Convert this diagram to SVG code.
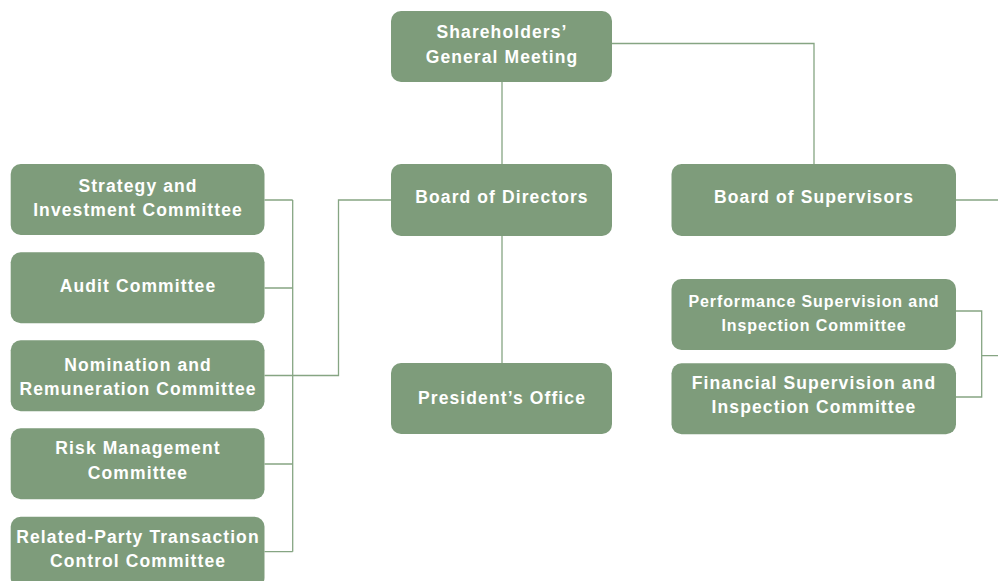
<svg xmlns="http://www.w3.org/2000/svg" width="998" height="581" viewBox="0 0 998 581">
<style>
.box{fill:#7e9c7b}
.t{font-family:"Liberation Sans",Arial,sans-serif;font-weight:bold;font-size:17.5px;letter-spacing:1.1px;fill:#ffffff;text-anchor:middle}
.s{font-size:16px;letter-spacing:0.9px}
.c{fill:none;stroke:#86a583;stroke-width:1.3}
</style>
<rect width="998" height="581" fill="#ffffff"/>
<g id="connectors">
<path class="c" d="M502 82V164"/>
<path class="c" d="M612 43.5H814V164"/>
<path class="c" d="M502 236V363"/>
<path class="c" d="M391 200H338.5V375.5H292.7"/>
<path class="c" d="M292.7 200V551.7"/>
<path class="c" d="M264.5 200H292.7M264.5 288H292.7M264.5 375.5H292.7M264.5 464H292.7M264.5 551.7H292.7"/>
<path class="c" d="M956 200H998"/>
<path class="c" d="M956 311H981.7V397H956M981.7 355.7H998"/>
</g>
<g id="shareholders">
<rect class="box" x="391" y="11" width="221" height="71" rx="10"/>
<text class="t" x="502" y="37.7">Shareholders’</text>
<text class="t" x="502" y="63.3">General Meeting</text>
</g>
<g id="board-directors">
<rect class="box" x="391" y="164" width="221" height="72" rx="10"/>
<text class="t" x="502" y="203.3">Board of Directors</text>
</g>
<g id="presidents-office">
<rect class="box" x="391" y="363" width="221" height="71" rx="10"/>
<text class="t" x="502" y="403.5">President’s Office</text>
</g>
<g id="board-supervisors">
<rect class="box" x="671.5" y="164" width="284.5" height="72" rx="10"/>
<text class="t" x="814" y="203">Board of Supervisors</text>
</g>
<g id="performance-committee">
<rect class="box" x="671.5" y="279" width="284.5" height="71" rx="10"/>
<text class="t s" x="814" y="306.7">Performance Supervision and</text>
<text class="t s" x="814" y="330.7">Inspection Committee</text>
</g>
<g id="financial-committee">
<rect class="box" x="671.5" y="363.3" width="284.5" height="71" rx="10"/>
<text class="t" x="814" y="389">Financial Supervision and</text>
<text class="t" x="814" y="413.3">Inspection Committee</text>
</g>
<g id="strategy-committee">
<rect class="box" x="10.7" y="164" width="253.8" height="71" rx="10"/>
<text class="t" x="138" y="192.3">Strategy and</text>
<text class="t" x="138" y="215.7">Investment Committee</text>
</g>
<g id="audit-committee">
<rect class="box" x="10.7" y="252.3" width="253.8" height="71" rx="10"/>
<text class="t" x="138" y="291.7">Audit Committee</text>
</g>
<g id="nomination-committee">
<rect class="box" x="10.7" y="340.3" width="253.8" height="71" rx="10"/>
<text class="t" x="138" y="371">Nomination and</text>
<text class="t" x="138" y="395">Remuneration Committee</text>
</g>
<g id="risk-committee">
<rect class="box" x="10.7" y="428.3" width="253.8" height="71" rx="10"/>
<text class="t" x="138" y="454.3">Risk Management</text>
<text class="t" x="138" y="479">Committee</text>
</g>
<g id="related-party-committee">
<rect class="box" x="10.7" y="516.7" width="253.8" height="71" rx="10"/>
<text class="t" x="138" y="543.3">Related-Party Transaction</text>
<text class="t" x="138" y="566.7">Control Committee</text>
</g>
</svg>
